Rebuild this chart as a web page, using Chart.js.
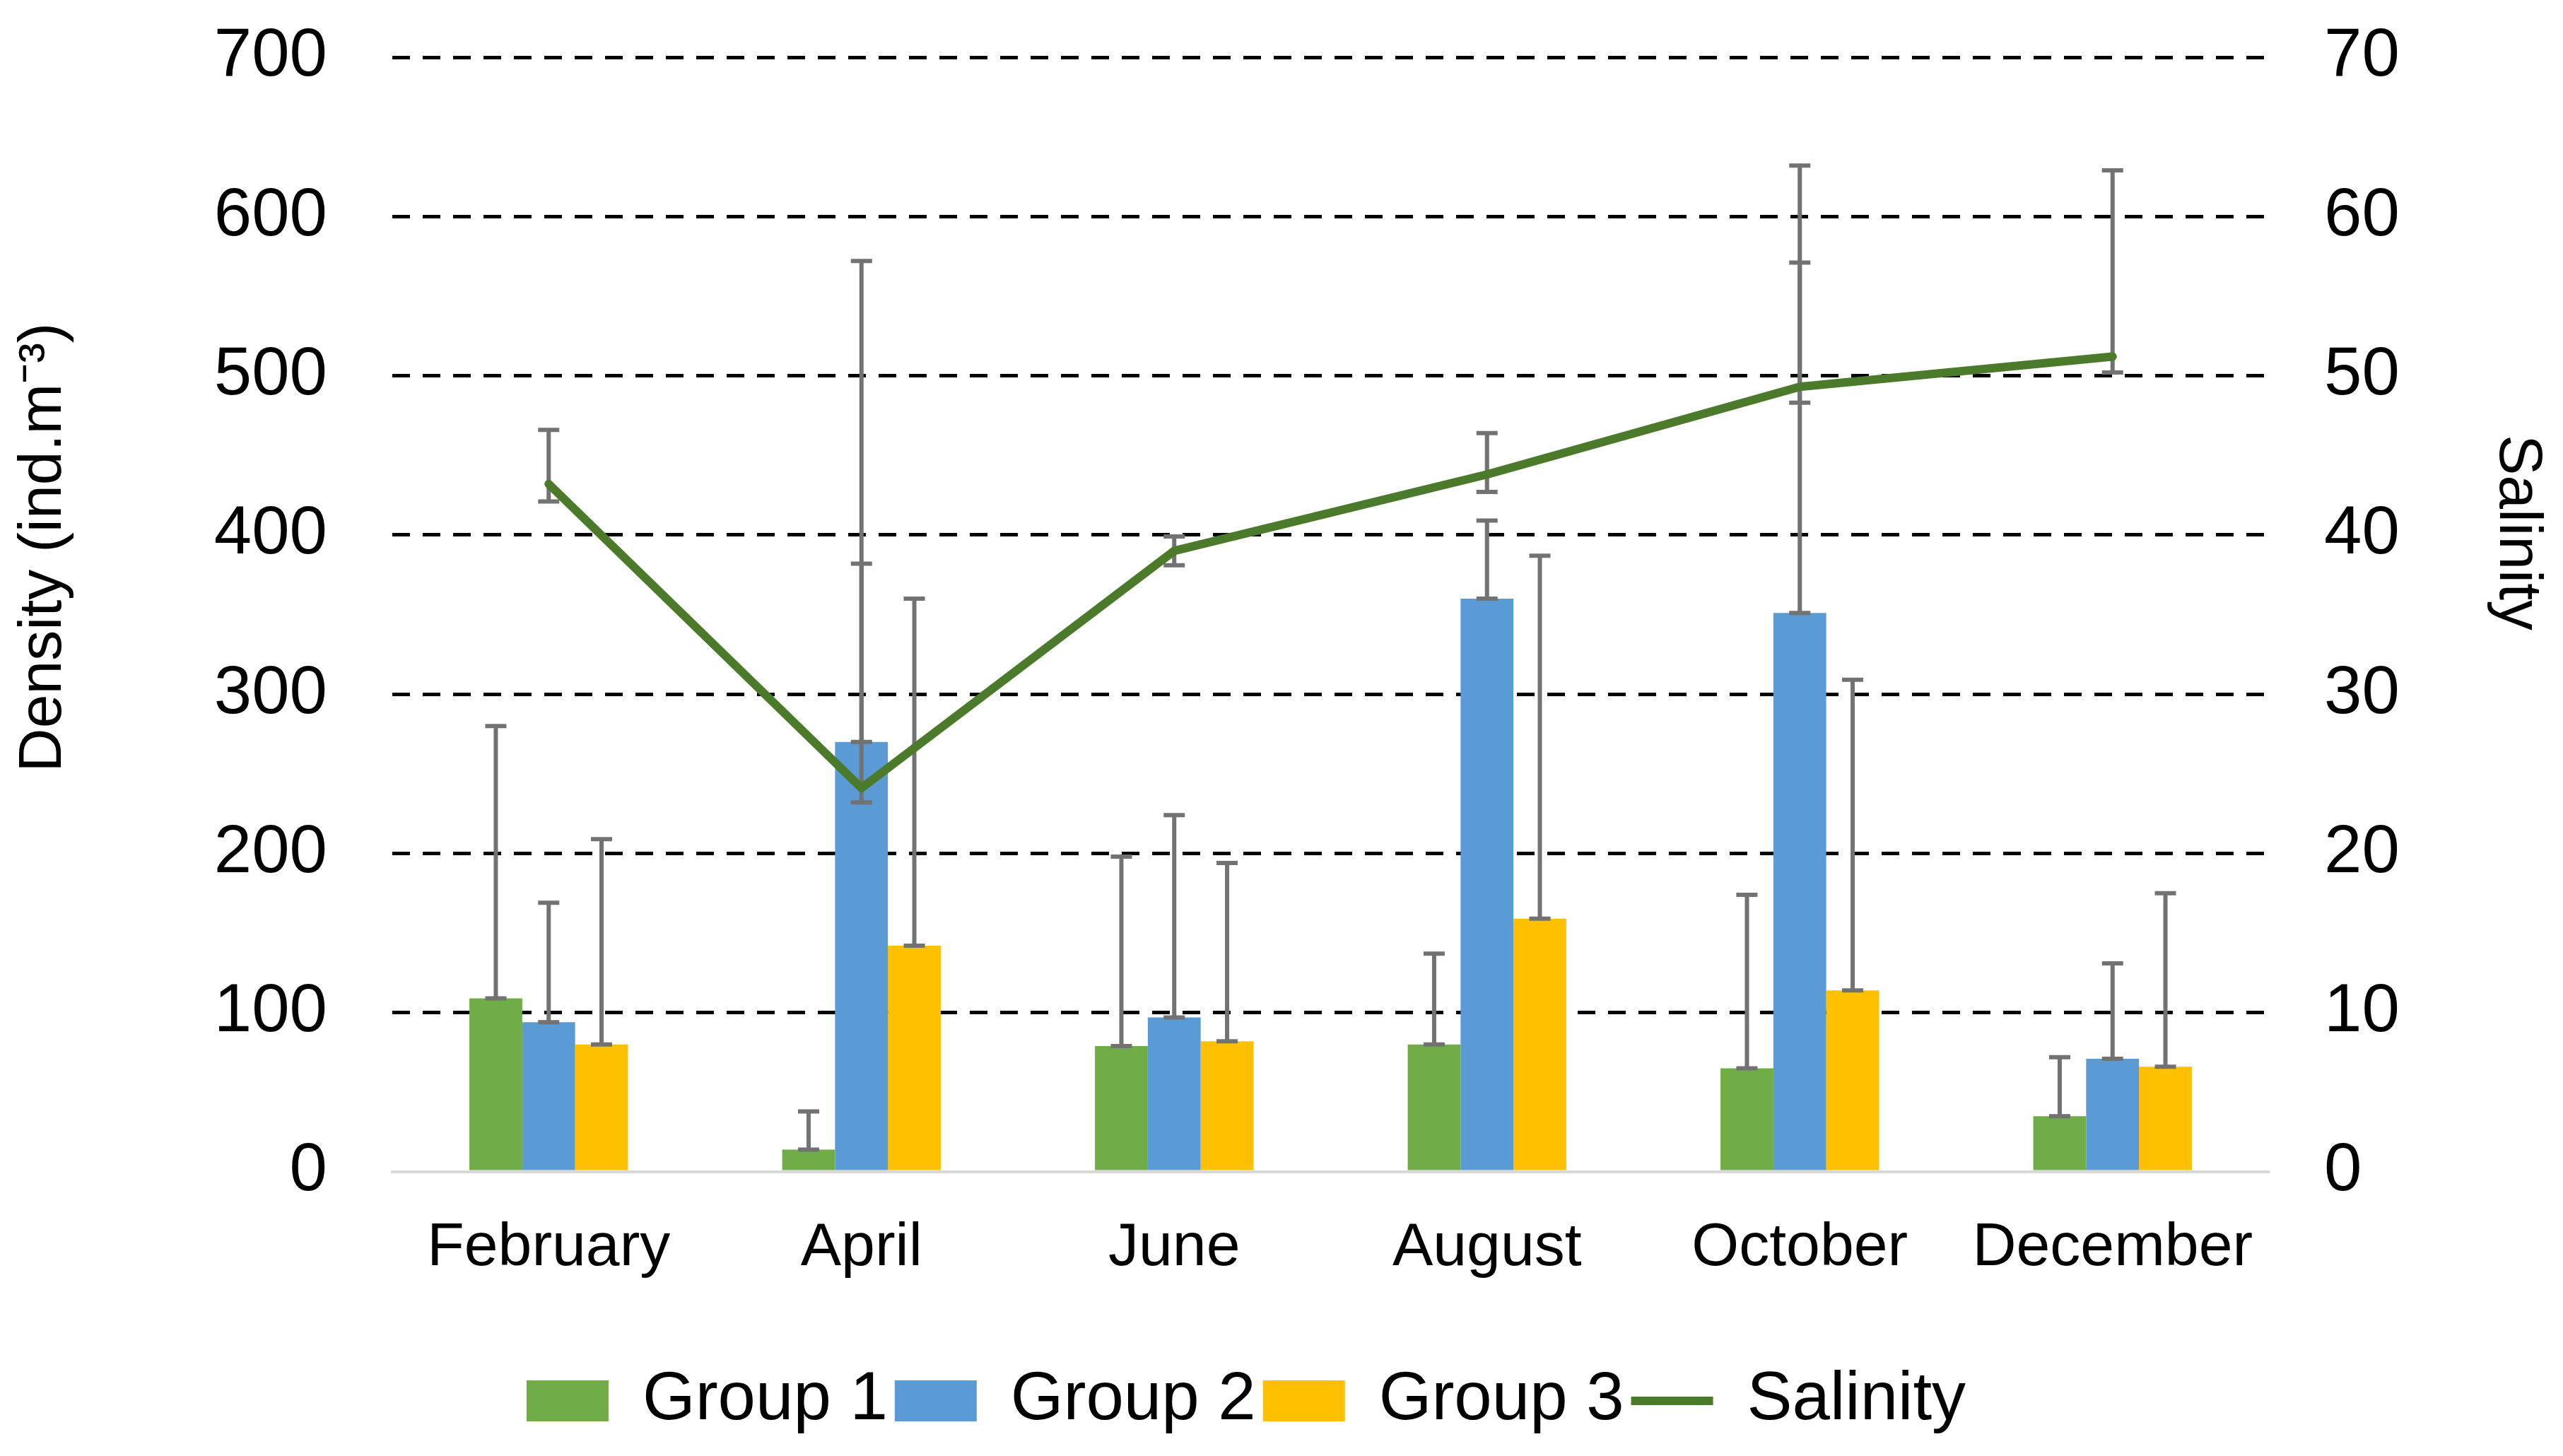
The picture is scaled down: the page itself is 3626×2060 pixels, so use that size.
<!DOCTYPE html>
<html>
<head>
<meta charset="utf-8">
<script src="https://cdn.jsdelivr.net/npm/chart.js@4.4.1/dist/chart.umd.min.js"></script>
<style>
  html, body { margin: 0; padding: 0; background: #fff; }
  canvas { display: block; }
</style>
</head>
<body>
<canvas id="chart" width="3626" height="2060" style="width:3626px;height:2060px"></canvas>
<script>
// Sampling months
const months = ['February', 'April', 'June', 'August', 'October', 'December'];

// Density (ind.m-3) per group, with upper error
const group1 = [109, 14, 79, 80, 65, 35];
const group1Err = [171, 24, 119, 57, 109, 37];
const group2 = [94, 270, 97, 360, 351, 71];
const group2Err = [75, 302, 127, 49, 281, 60];
const group3 = [80, 142, 82, 159, 114, 66];
const group3Err = [129, 218, 112, 228, 195, 109];

// Salinity with asymmetric error
const salinity = [43.2, 24.1, 39.0, 43.8, 49.3, 51.2];
const salinityErrUp = [3.4, 14.1, 0.9, 2.6, 7.8, 11.7];
const salinityErrDown = [1.1, 0.9, 0.9, 1.1, 1.0, 1.0];

const densityTicks = [0, 100, 200, 300, 400, 500, 600, 700];
const salinityTicks = [0, 10, 20, 30, 40, 50, 60, 70];

const FONT = "'Liberation Sans', Arial, sans-serif";

// Draws error whiskers from the dataset's errUp / errDown arrays
function drawWhiskers(chart, index) {
  const ds = chart.data.datasets[index];
  if (!ds.errUp) return;
  const meta = chart.getDatasetMeta(index);
  const yScale = chart.scales[meta.yAxisID];
  const ctx = chart.ctx;
  ctx.save();
  ctx.strokeStyle = '#727272';
  ctx.lineWidth = 6;
  meta.data.forEach((el, i) => {
    const v = ds.data[i];
    const lo = yScale.getPixelForValue(v - (ds.errDown ? ds.errDown[i] : 0));
    const hi = yScale.getPixelForValue(v + ds.errUp[i]);
    const x = el.x;
    ctx.beginPath();
    ctx.moveTo(x, lo);
    ctx.lineTo(x, hi);
    ctx.moveTo(x - 15, hi);
    ctx.lineTo(x + 15, hi);
    ctx.moveTo(x - 15, lo);
    ctx.lineTo(x + 15, lo);
    ctx.stroke();
  });
  ctx.restore();
}

const errorBars = {
  id: 'errorBars',
  beforeDatasetDraw(chart, args) {
    if (chart.data.datasets[args.index].type === 'line') drawWhiskers(chart, args.index);
  },
  afterDatasetDraw(chart, args) {
    if (chart.data.datasets[args.index].type !== 'line') drawWhiskers(chart, args.index);
  }
};

// Axis titles sit a bit above the plot centre, as in the source figure
const axisTitles = {
  id: 'axisTitles',
  afterDraw(chart) {
    const {ctx, chartArea} = chart;
    const mid = (chartArea.top + chartArea.bottom) / 2;
    ctx.save();
    ctx.fillStyle = '#000';
    ctx.font = '86px ' + FONT;
    ctx.textAlign = 'center';
    ctx.textBaseline = 'middle';
    ctx.translate(62, mid - 95);
    ctx.rotate(-Math.PI / 2);
    ctx.fillText('Density (ind.m⁻³)', 0, 0);
    ctx.restore();
    ctx.save();
    ctx.fillStyle = '#000';
    ctx.font = '86px ' + FONT;
    ctx.textAlign = 'center';
    ctx.textBaseline = 'middle';
    ctx.translate(3561, mid - 116);
    ctx.rotate(Math.PI / 2);
    ctx.fillText('Salinity', 0, 0);
    ctx.restore();
  },
  beforeDraw(chart) {
    // nudge the centred legend row left to where the source has it
    if (chart.legend && !chart.legend._nudged) {
      chart.legend.right -= 100;
      chart.legend._nudged = true;
    }
  }
};

// value axes: fixed width, no extra room reserved for the end labels
function fixY(width) {
  return scale => {
    scale.width = width;
    scale.paddingTop = 0;
    scale.paddingBottom = 0;
  };
}

new Chart(document.getElementById('chart'), {
  type: 'bar',
  data: {
    labels: months,
    datasets: [
      { label: 'Group 1', data: group1, errUp: group1Err, backgroundColor: '#70ad47', yAxisID: 'y', order: 1 },
      { label: 'Group 2', data: group2, errUp: group2Err, backgroundColor: '#5b9bd5', yAxisID: 'y', order: 1 },
      { label: 'Group 3', data: group3, errUp: group3Err, backgroundColor: '#ffc000', yAxisID: 'y', order: 1 },
      {
        type: 'line', label: 'Salinity', data: salinity,
        errUp: salinityErrUp, errDown: salinityErrDown,
        borderColor: '#4a7a2a', backgroundColor: '#4a7a2a',
        borderWidth: 12, pointRadius: 0, tension: 0,
        borderJoinStyle: 'round', borderCapStyle: 'round',
        yAxisID: 'y2', order: 0
      }
    ]
  },
  options: {
    responsive: false,
    animation: false,
    devicePixelRatio: 1,
    layout: { padding: { top: 81, left: 0, right: 0, bottom: 20 } },
    datasets: {
      bar: { categoryPercentage: 0.507, barPercentage: 1.0, borderWidth: 0 }
    },
    plugins: {
      tooltip: { enabled: false },
      legend: {
        position: 'bottom',
        labels: {
          color: '#000',
          font: { family: FONT, size: 96 },
          usePointStyle: true,
          pointStyleWidth: 116,
          boxHeight: 58,
          padding: 10,
          generateLabels(chart) {
            return chart.data.datasets.map((ds, i) => ({
              text: ds.label,
              datasetIndex: i,
              fillStyle: ds.backgroundColor,
              strokeStyle: ds.type === 'line' ? ds.borderColor : ds.backgroundColor,
              lineWidth: ds.type === 'line' ? 12 : 0,
              pointStyle: ds.type === 'line' ? 'line' : 'rect',
              fontColor: '#000'
            }));
          }
        }
      }
    },
    scales: {
      x: {
        grid: { display: false },
        border: { display: true, color: '#d9d9d9', width: 4 },
        ticks: { color: '#000', font: { family: FONT, size: 86 }, padding: 49, maxRotation: 0 },
        afterFit(scale) { scale.height = 266; }
      },
      y: {
        position: 'left',
        min: 0, max: 700,
        afterBuildTicks(scale) { scale.ticks = densityTicks.map(v => ({ value: v })); },
        grid: {
          drawTicks: false,
          lineWidth: 5,
          color: ctx => ctx.tick && ctx.tick.value === 0 ? 'rgba(0,0,0,0)' : '#000'
        },
        border: { display: false, dash: [25, 18] },
        ticks: { color: '#000', font: { family: FONT, size: 96 }, padding: 92 },
        afterFit: fixY(555)
      },
      y2: {
        position: 'right',
        min: 0, max: 70,
        afterBuildTicks(scale) { scale.ticks = salinityTicks.map(v => ({ value: v })); },
        grid: { display: false, drawTicks: false },
        border: { display: false },
        ticks: { color: '#000', font: { family: FONT, size: 96 }, padding: 78 },
        afterFit: fixY(416)
      }
    }
  },
  plugins: [errorBars, axisTitles]
});
</script>
</body>
</html>
